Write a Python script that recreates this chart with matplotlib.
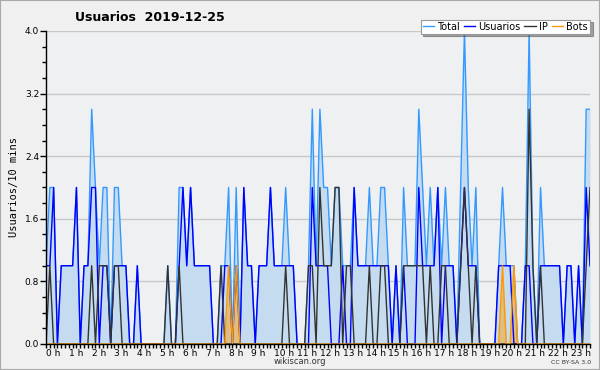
import matplotlib
matplotlib.use('Agg')
import matplotlib.pyplot as plt
import numpy as np
from matplotlib.ticker import MultipleLocator

## Values every 10 minutes (144 slots).
usuarios = [1, 1, 2, 0, 1, 1, 1, 1, 2, 0, 1, 1, 2, 2, 0, 1, 1, 0, 1, 1, 1, 1, 0, 0,
            1, 0, 0, 0, 0, 0, 0, 0, 0, 0, 0, 1, 2, 1, 2, 1, 1, 1, 1, 1, 0, 0, 0, 1,
            1, 0, 1, 0, 2, 1, 1, 0, 1, 1, 1, 2, 1, 1, 1, 1, 1, 1, 0, 0, 0, 0, 2, 1,
            1, 1, 1, 0, 0, 0, 1, 0, 0, 2, 1, 1, 1, 1, 1, 1, 1, 1, 1, 0, 1, 0, 1, 0,
            0, 0, 2, 1, 1, 1, 1, 2, 0, 1, 1, 1, 0, 1, 2, 1, 1, 1, 0, 0, 0, 0, 0, 1,
            1, 1, 1, 0, 0, 0, 1, 1, 0, 0, 1, 1, 1, 1, 1, 1, 0, 1, 1, 0, 1, 0, 2, 1]
ip = [0, 1, 0, 0, 0, 0, 0, 0, 0, 0, 0, 0, 1, 0, 1, 1, 1, 0, 1, 1, 0, 0, 0, 0,
      0, 0, 0, 0, 0, 0, 0, 0, 1, 0, 0, 1, 0, 0, 0, 0, 0, 0, 0, 0, 0, 0, 1, 0,
      0, 0, 0, 0, 0, 0, 0, 0, 0, 0, 0, 0, 0, 0, 0, 1, 0, 0, 0, 0, 0, 1, 1, 0,
      2, 1, 1, 1, 2, 2, 0, 1, 1, 0, 0, 0, 0, 1, 0, 0, 1, 1, 0, 0, 0, 0, 1, 1,
      1, 1, 1, 1, 0, 1, 0, 0, 1, 1, 0, 0, 0, 1, 2, 1, 0, 1, 0, 0, 0, 0, 0, 0,
      0, 0, 0, 0, 0, 0, 0, 3, 1, 0, 1, 0, 0, 0, 0, 0, 0, 0, 0, 0, 0, 0, 1, 2]
bots = [0] * 144
for k in [48, 50, 120, 123]:
    bots[k] = 1
total = [1, 2, 2, 0, 1, 1, 1, 1, 2, 0, 1, 1, 3, 2, 1, 2, 2, 0, 2, 2, 1, 1, 0, 0,
         1, 0, 0, 0, 0, 0, 0, 0, 1, 0, 0, 2, 2, 1, 2, 1, 1, 1, 1, 1, 0, 0, 1, 1,
         2, 0, 2, 0, 2, 1, 1, 0, 1, 1, 1, 2, 1, 1, 1, 2, 1, 1, 0, 0, 0, 1, 3, 1,
         3, 2, 2, 1, 2, 2, 1, 1, 1, 2, 1, 1, 1, 2, 1, 1, 2, 2, 1, 0, 1, 0, 2, 1,
         1, 1, 3, 2, 1, 2, 1, 2, 1, 2, 1, 1, 0, 2, 4, 2, 1, 2, 0, 0, 0, 0, 0, 1,
         2, 1, 1, 1, 0, 0, 1, 4, 1, 0, 2, 1, 1, 1, 1, 1, 0, 1, 1, 0, 1, 0, 3, 3]

hour_labels = ['%d h' % h for h in range(24)]

x = np.arange(len(total)) / 6.0

bg = '#f0f0f0'
fig = plt.figure(figsize=(6, 3.7), dpi=100, facecolor=bg)
ax = fig.add_axes([0.0767, 0.0703, 0.9066, 0.8460])
ax.set_facecolor('#eff0f2')

## Grid lines first.
ax.set_ylim(0, 4.0)
ax.set_xlim(0, x[-1])
ax.set_yticks([0.0, 0.8, 1.6, 2.4, 3.2, 4.0])
ax.yaxis.set_minor_locator(MultipleLocator(0.2))
ax.grid(axis='y', color='#c8c8c8', linewidth=1.0)
ax.set_axisbelow(True)

## Areas and lines.
ax.fill_between(x, total, 0, color='#c5dcf0', linewidth=0)
ax.fill_between(x, bots, 0, color='#ff9900', alpha=0.45, linewidth=0)
ax.plot(x, total, color='#3399ff', linewidth=1.0, label='Total')
ax.plot(x, usuarios, color='#0000ff', linewidth=1.0, label='Usuarios')
ax.plot(x, ip, color='#333333', linewidth=1.0, label='IP')
ax.plot(x, bots, color='#ff9900', linewidth=1.0, label='Bots')

## Axis styling.
for side in ['top', 'right']:
    ax.spines[side].set_visible(False)
ax.spines['left'].set_linewidth(1.0)
ax.spines['bottom'].set_linewidth(1.0)
ax.set_xticks(range(24))
ax.set_xticklabels(hour_labels)
ax.xaxis.set_minor_locator(MultipleLocator(1 / 6.0))
ax.tick_params(axis='x', which='major', labelsize=6.5, length=3, width=1,
               pad=0.5, colors='#000000')
ax.tick_params(axis='y', which='major', labelsize=6.5, length=4, width=1,
               pad=1, colors='#000000')
ax.tick_params(axis='both', which='minor', length=3, width=1)
ax.set_yticklabels(['%.1f' % v for v in [0.0, 0.8, 1.6, 2.4, 3.2, 4.0]])
for lab in ax.get_xticklabels():
    lab.set_horizontalalignment('left')
    lab.set_x(-0.1)

ax.set_ylabel('Usuarios/10 mins', fontsize=7.5, family='DejaVu Sans Mono',
              labelpad=4)

## Title and footer texts.
fig.text(0.125, 0.954, 'Usuarios  2019-12-25', fontsize=9, fontweight='bold',
         ha='left', va='center')
fig.text(0.5, 0.022, 'wikiscan.org', fontsize=6, ha='center', va='center',
         color='#333333')
fig.text(0.985, 0.020, 'CC BY-SA 3.0', fontsize=4.5, ha='right', va='center',
         color='#333333')

leg = ax.legend(loc='upper right', bbox_to_anchor=(1.0, 1.036), ncol=4,
                fontsize=7, frameon=True, fancybox=False, shadow=True,
                handlelength=1.2, handletextpad=0.3, columnspacing=0.4,
                borderpad=0.2, borderaxespad=0.0)
leg.get_frame().set_edgecolor('#999999')
leg.get_frame().set_linewidth(0.8)

## Figure border.
fig.patches.append(plt.Rectangle((0, 0), 1, 1, transform=fig.transFigure,
                                 fill=False, edgecolor='#aaaaaa', linewidth=1.5))

fig.savefig('out.png', dpi=100, facecolor=bg)
